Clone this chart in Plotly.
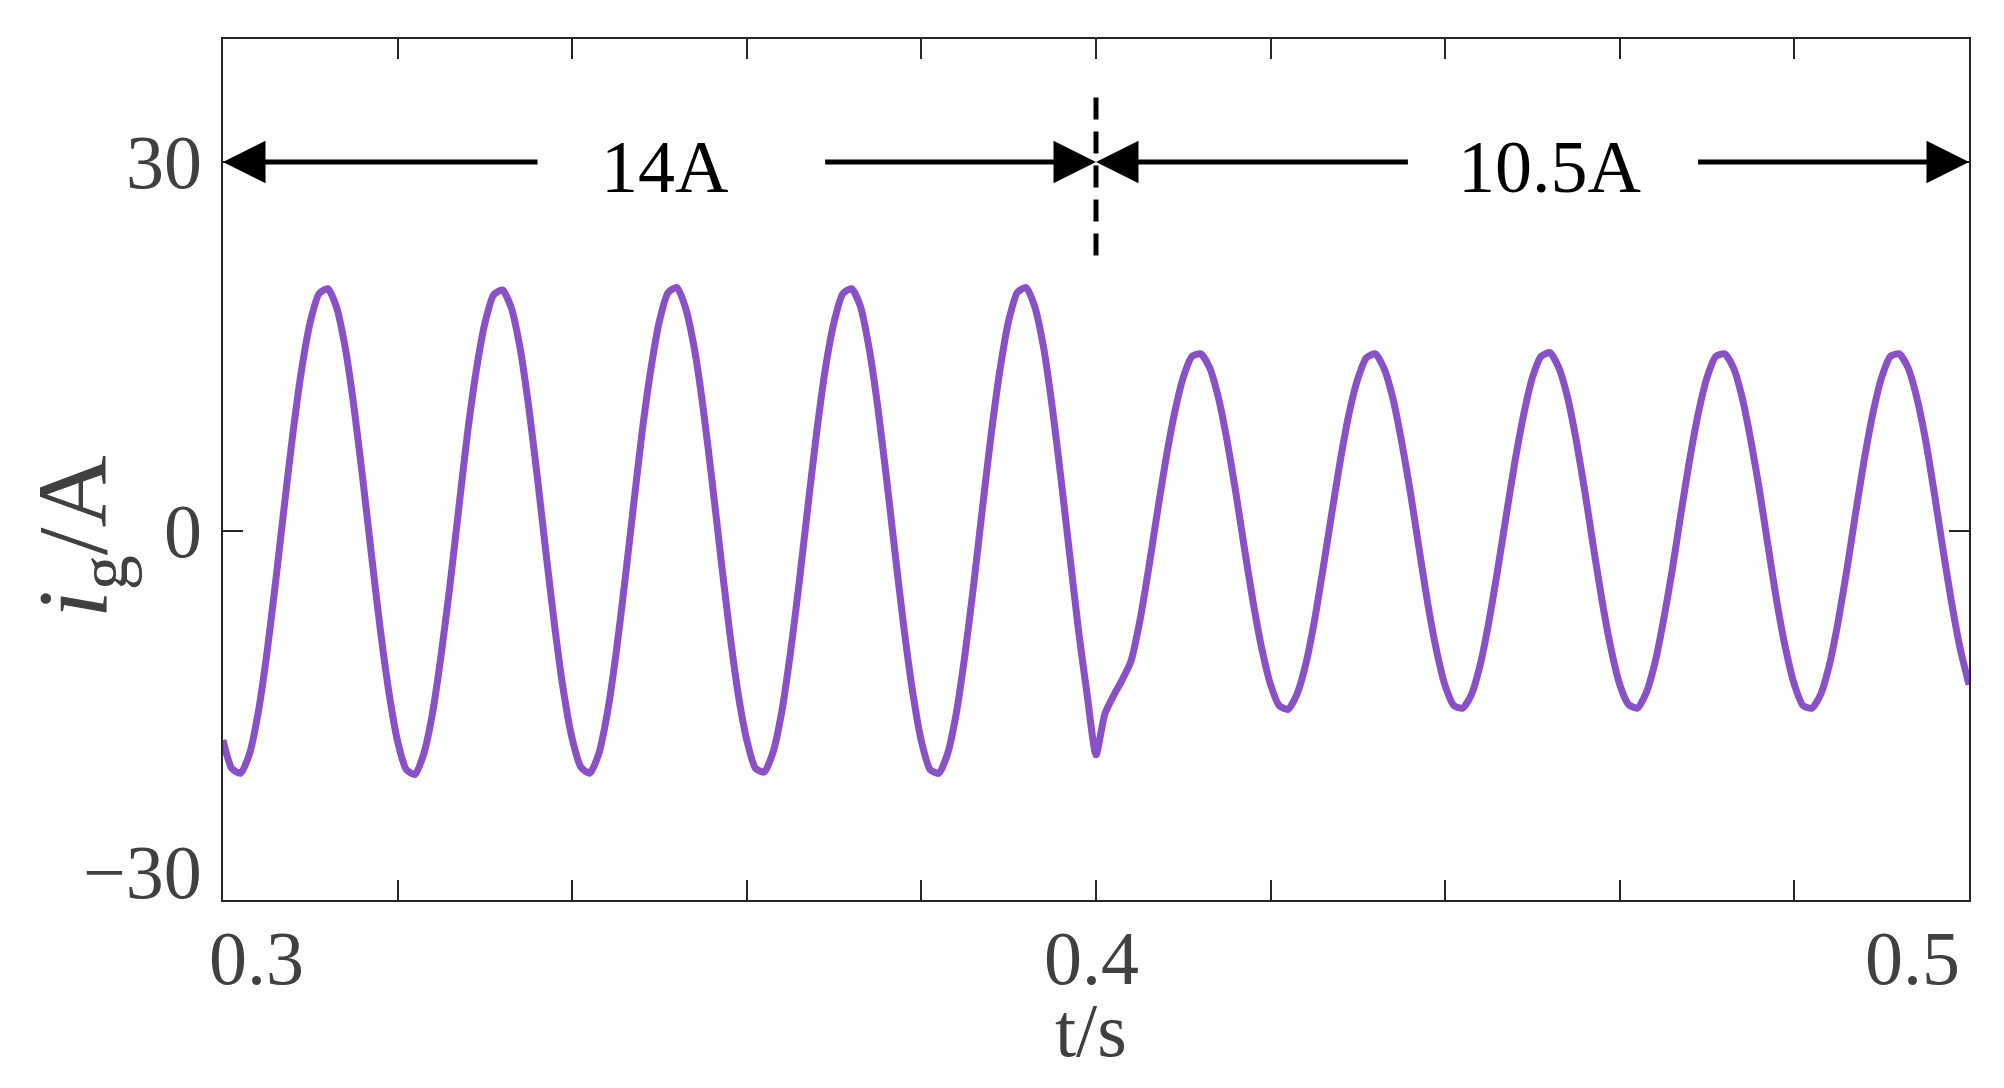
import plotly.graph_objects as go

# grid current i_g (A), sampled every 1 ms from 0.300 s to 0.500 s, one row per 20 ms cycle
t_start = 0.3
t_step = 0.001
i_g = [
    -17.0, -19.3, -19.7, -18.2, -14.9, -10.1, -4.3, 1.9, 7.9, 13.1, 17.0, 19.3, 19.7, 18.2, 14.9, 10.1, 4.3, -1.9, -7.9, -13.1,
    -17.1, -19.4, -19.8, -18.1, -14.8, -10.0, -4.4, 1.8, 7.9, 13.0, 16.9, 19.2, 19.6, 18.2, 15.0, 10.2, 4.4, -1.8, -7.8, -13.0,
    -16.9, -19.2, -19.7, -18.2, -14.9, -10.1, -4.3, 1.9, 8.0, 13.1, 17.1, 19.4, 19.8, 18.1, 14.8, 10.0, 4.2, -2.0, -8.0, -13.2,
    -17.0, -19.3, -19.6, -18.0, -14.7, -9.9, -4.2, 2.0, 8.0, 13.2, 17.0, 19.3, 19.7, 18.3, 14.9, 10.1, 4.3, -1.9, -7.9, -13.1,
    -17.1, -19.4, -19.7, -18.1, -14.8, -10.0, -4.3, 1.9, 7.9, 13.1, 17.1, 19.4, 19.8, 18.2, 14.9, 10.0, 4.2, -2.0, -8.1, -13.4,
    -18.2, -14.9, -13.4, -12.1, -10.6, -7.4, -3.2, 1.4, 5.8, 9.6, 12.5, 14.2, 14.4, 13.3, 10.9, 7.4, 3.2, -1.4, -5.8, -9.6,
    -12.5, -14.2, -14.5, -13.3, -10.9, -7.4, -3.1, 1.4, 5.8, 9.6, 12.4, 14.1, 14.4, 13.2, 10.8, 7.3, 3.2, -1.4, -5.9, -9.7,
    -12.6, -14.2, -14.4, -13.3, -10.9, -7.4, -3.2, 1.3, 5.7, 9.5, 12.5, 14.2, 14.5, 13.3, 10.9, 7.4, 3.2, -1.4, -5.8, -9.6,
    -12.5, -14.1, -14.4, -13.2, -10.8, -7.3, -3.2, 1.4, 5.8, 9.6, 12.5, 14.2, 14.4, 13.3, 10.9, 7.4, 3.3, -1.3, -5.8, -9.6,
    -12.5, -14.2, -14.4, -13.3, -10.9, -7.4, -3.2, 1.4, 5.8, 9.6, 12.5, 14.2, 14.4, 13.3, 10.9, 7.5, 3.2, -1.4, -5.8, -9.6,
    -12.5,
]
t = [round(t_start + k * t_step, 3) for k in range(len(i_g))]

x_ticks = [0.30, 0.32, 0.34, 0.36, 0.38, 0.40, 0.42, 0.44, 0.46, 0.48, 0.50]
x_label_vals = [0.3, 0.4, 0.5]
x_label_text = ['0.3', '0.4', '0.5']
y_ticks = [-30, 0, 30]
y_label_text = ['\u221230', '0', '30']

# current step annotation
switch_t = 0.4
marker_y = 30
seg_text = ['14A', '10.5A']
seg_text_x = [0.3506, 0.4520]
arrow_tails = [0.3362, 0.3688, 0.4359, 0.4688]
arrow_heads = [0.3, 0.4, 0.4, 0.5]
dash_span = [22.4, 35.7]

FONT = 'Liberation Serif'
AX = '#262626'
TXT = '#404040'

fig = go.Figure()
fig.add_trace(go.Scatter(x=t, y=i_g, mode='lines',
                         line=dict(color='#8a50c8', width=7, shape='spline', smoothing=0.6),
                         showlegend=False))

fig.add_shape(type='line', x0=switch_t, x1=switch_t, y0=dash_span[0], y1=dash_span[1],
              line=dict(color='black', width=5, dash='22px,12px'))

annotations = []
for tail, head in zip(arrow_tails, arrow_heads):
    annotations.append(dict(x=head, y=marker_y, ax=tail, ay=marker_y, xref='x', yref='y',
                            axref='x', ayref='y', text='', showarrow=True, arrowhead=2,
                            arrowsize=1.7, arrowwidth=5, arrowcolor='black',
                            standoff=0, startstandoff=0))
for txt, xv in zip(seg_text, seg_text_x):
    annotations.append(dict(x=xv, y=29.6, xref='x', yref='y', text=txt, showarrow=False,
                            font=dict(family=FONT, size=74, color='black'),
                            xanchor='center', yanchor='middle'))

# tick labels, end labels kept inside the axis span like the original
x_shifts = [33, -5, -57]
for xv, txt, sh in zip(x_label_vals, x_label_text, x_shifts):
    annotations.append(dict(x=xv, y=0, xref='x', yref='paper', text=txt, showarrow=False,
                            font=dict(family=FONT, size=76, color=TXT),
                            xanchor='center', yanchor='middle', xshift=sh, yshift=-58))
y_shifts = [28, 0, 0]
for yv, txt, sh in zip(y_ticks, y_label_text, y_shifts):
    annotations.append(dict(x=0, y=yv, xref='paper', yref='y', text=txt, showarrow=False,
                            font=dict(family=FONT, size=76, color=TXT),
                            xanchor='right', yanchor='middle', xshift=-19, yshift=sh))

annotations.append(dict(x=0.4, y=0, xref='x', yref='paper', text='t/s', showarrow=False,
                        font=dict(family=FONT, size=76, color=TXT),
                        xanchor='center', yanchor='middle', xshift=-5, yshift=-130))
annotations.append(dict(x=0, y=0.4216, xref='paper', yref='paper',
                        text='<i>i</i><sub>g</sub>/A', textangle=-90, showarrow=False,
                        font=dict(family=FONT, size=100, color=TXT),
                        xanchor='center', yanchor='middle', xshift=-144))

axis_style = dict(showline=True, mirror='ticks', linecolor=AX, linewidth=2,
                  ticks='inside', ticklen=20, tickwidth=2, tickcolor=AX,
                  showticklabels=False, showgrid=False, zeroline=False)

# page body adds an 8 px offset, so the figure is 8 px smaller each way
fig.update_layout(
    width=1996, height=1080,
    margin=dict(l=215, r=35, t=31, b=188),
    paper_bgcolor='white', plot_bgcolor='white',
    xaxis=dict(range=[0.3, 0.5], tickvals=x_ticks, **axis_style),
    yaxis=dict(range=[-30, 40], tickvals=y_ticks, **axis_style),
    annotations=annotations,
    showlegend=False,
)

fig.write_html("out.html")
